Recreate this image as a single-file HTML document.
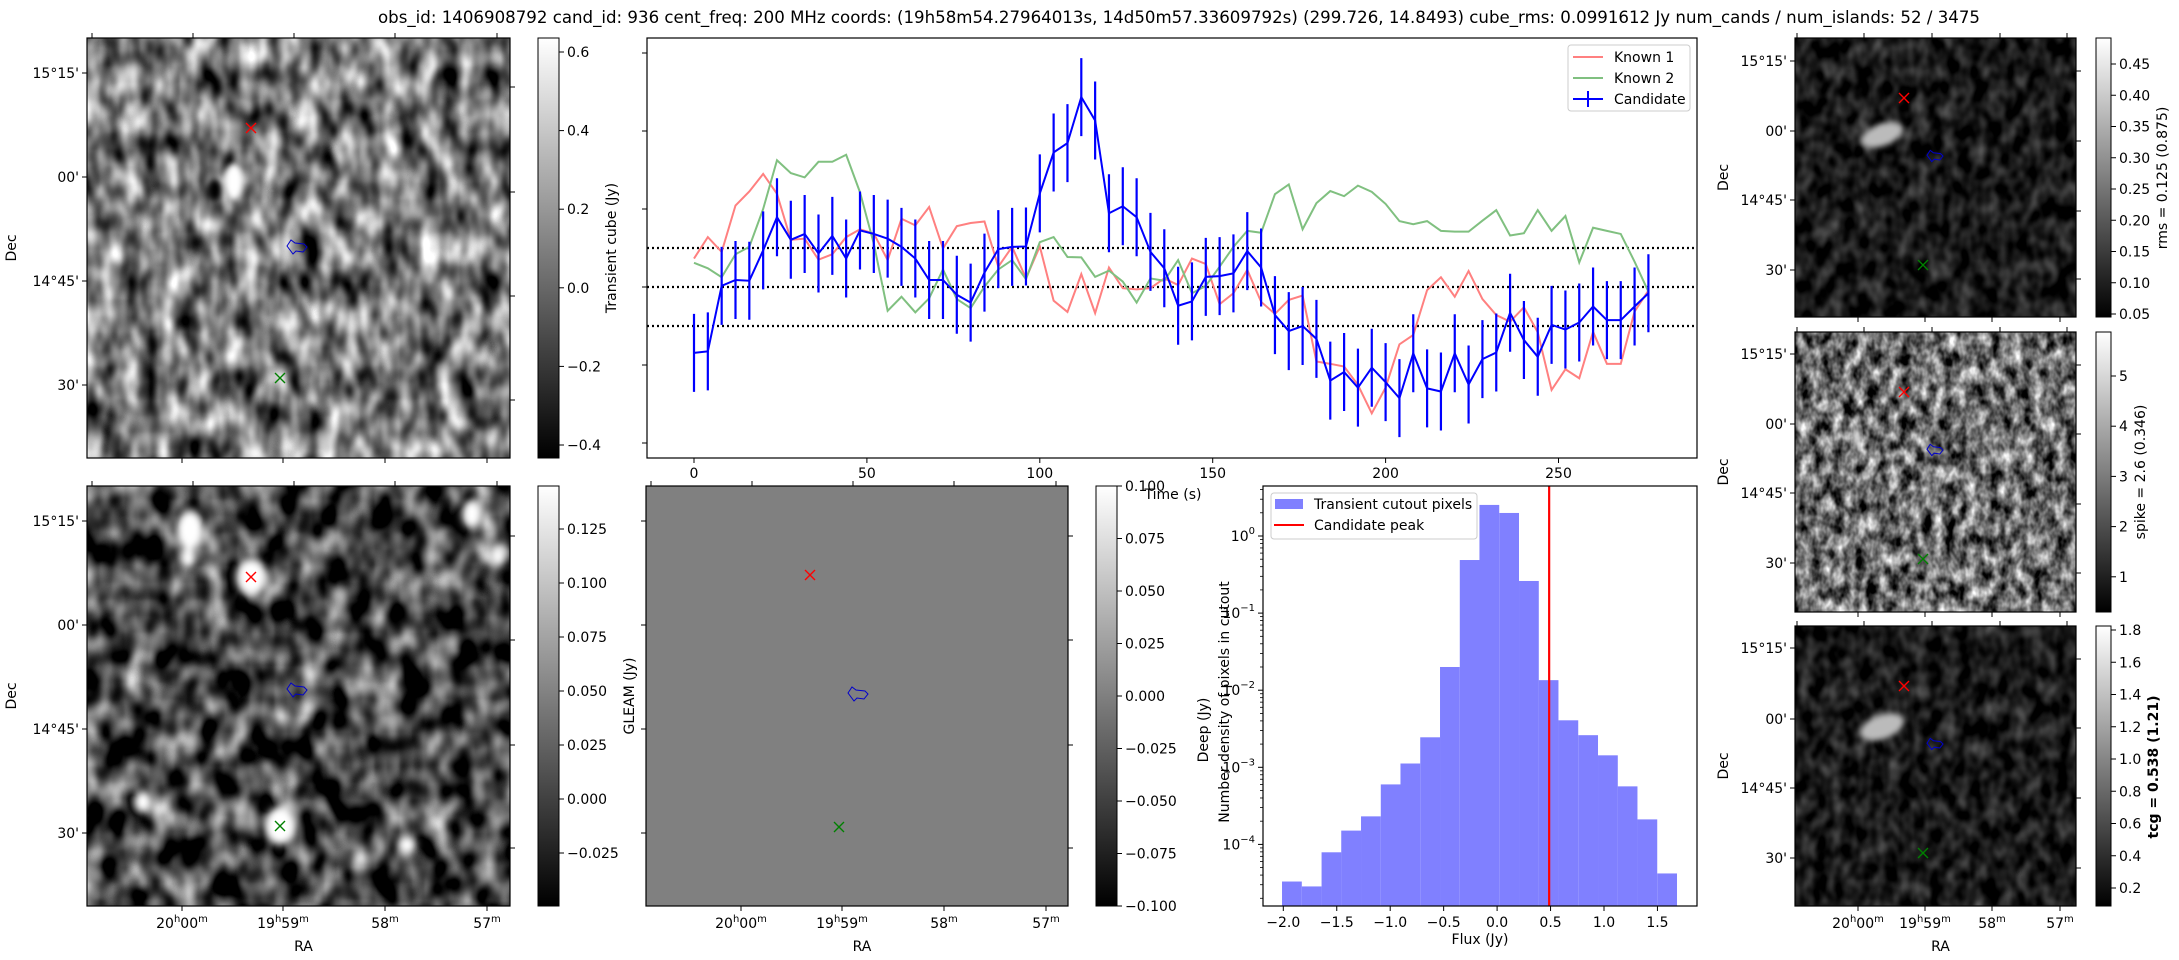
<!DOCTYPE html>
<html><head><meta charset="utf-8"><style>
html,body{margin:0;padding:0;background:#fff}
svg{display:block;font-family:"DejaVu Sans","Liberation Sans",sans-serif}
</style></head><body>
<svg id="fig" width="2179" height="960" viewBox="0 0 2179 960" xmlns="http://www.w3.org/2000/svg">
<defs>
<filter id="nz1" x="0" y="0" width="100%" height="100%" color-interpolation-filters="sRGB"><feTurbulence type="fractalNoise" baseFrequency="0.05 0.03" numOctaves="2" seed="3"/><feColorMatrix type="matrix" values="1.6 0 0 0 -0.32 1.6 0 0 0 -0.32 1.6 0 0 0 -0.32 0 0 0 0 1"/></filter>
<filter id="nz2" x="0" y="0" width="100%" height="100%" color-interpolation-filters="sRGB"><feTurbulence type="fractalNoise" baseFrequency="0.04 0.03" numOctaves="2" seed="7"/><feColorMatrix type="matrix" values="1.7 0 0 0 -0.58 1.7 0 0 0 -0.58 1.7 0 0 0 -0.58 0 0 0 0 1"/></filter>
<filter id="nz3" x="0" y="0" width="100%" height="100%" color-interpolation-filters="sRGB"><feTurbulence type="fractalNoise" baseFrequency="0.07 0.05" numOctaves="2" seed="11"/><feColorMatrix type="matrix" values="0.6 0 0 0 -0.2 0.6 0 0 0 -0.2 0.6 0 0 0 -0.2 0 0 0 0 1"/></filter>
<filter id="nz4" x="0" y="0" width="100%" height="100%" color-interpolation-filters="sRGB"><feTurbulence type="fractalNoise" baseFrequency="0.09 0.06" numOctaves="3" seed="5"/><feColorMatrix type="matrix" values="1.6 0 0 0 -0.38 1.6 0 0 0 -0.38 1.6 0 0 0 -0.38 0 0 0 0 1"/></filter>
<filter id="bl" x="-50%" y="-50%" width="200%" height="200%"><feGaussianBlur stdDeviation="4"/></filter>
<filter id="bl2" x="-50%" y="-50%" width="200%" height="200%"><feGaussianBlur stdDeviation="3"/></filter>
<linearGradient id="gray" x1="0" y1="1" x2="0" y2="0"><stop offset="0" stop-color="#000"/><stop offset="1" stop-color="#fff"/></linearGradient>
<clipPath id="c1"><rect x="87" y="38" width="423" height="420"/></clipPath>
<clipPath id="c2"><rect x="87" y="486" width="423" height="420"/></clipPath>
<clipPath id="c5"><rect x="1795" y="38" width="281" height="279"/></clipPath>
<clipPath id="c6"><rect x="1795" y="332" width="281" height="280"/></clipPath>
<clipPath id="c7"><rect x="1795" y="626" width="281" height="280"/></clipPath>
</defs>

<text x="378" y="23" font-size="16.5" textLength="1602" lengthAdjust="spacingAndGlyphs">obs_id: 1406908792 cand_id: 936 cent_freq: 200 MHz coords: (19h58m54.27964013s, 14d50m57.33609792s) (299.726, 14.8493) cube_rms: 0.0991612 Jy num_cands / num_islands: 52 / 3475</text>

<g clip-path="url(#c1)">
<rect x="87" y="38" width="423" height="420" filter="url(#nz1)"/>
<ellipse cx="234" cy="182" rx="9" ry="18" fill="#fff" filter="url(#bl2)"/>
<ellipse cx="215" cy="190" rx="7" ry="11" fill="#000" filter="url(#bl2)"/>
</g>
<g clip-path="url(#c2)">
<rect x="87" y="486" width="423" height="420" filter="url(#nz2)"/>
<g fill="#fff" filter="url(#bl)">
<ellipse cx="190" cy="530" rx="14" ry="20"/><ellipse cx="188" cy="558" rx="8" ry="10"/>
<ellipse cx="251" cy="577" rx="15" ry="18"/><ellipse cx="472" cy="514" rx="10" ry="14"/>
<ellipse cx="498" cy="556" rx="7" ry="10"/><ellipse cx="143" cy="802" rx="9" ry="11"/>
<ellipse cx="280" cy="826" rx="15" ry="19"/><ellipse cx="407" cy="845" rx="9" ry="9"/>
</g></g>
<rect x="646" y="486" width="422" height="420" fill="#808080"/>
<g clip-path="url(#c5)">
<rect x="1795" y="38" width="281" height="279" filter="url(#nz3)"/>
<ellipse cx="1882" cy="135" rx="22" ry="11" fill="#bbb" transform="rotate(-20 1882 135)" filter="url(#bl2)"/>
</g>
<g clip-path="url(#c6)">
<rect x="1795" y="332" width="281" height="280" filter="url(#nz4)"/>
<ellipse cx="1857" cy="437" rx="3" ry="10" fill="#fff" filter="url(#bl2)"/>
</g>
<g clip-path="url(#c7)">
<rect x="1795" y="626" width="281" height="280" filter="url(#nz3)"/>
<ellipse cx="1882" cy="727" rx="23" ry="12" fill="#bbb" transform="rotate(-20 1882 727)" filter="url(#bl2)"/>
</g>

<rect x="538" y="38" width="21" height="420" fill="url(#gray)" stroke="#000"/>
<rect x="538" y="486" width="21" height="420" fill="url(#gray)" stroke="#000"/>
<rect x="1096" y="486" width="21" height="420" fill="url(#gray)" stroke="#000"/>
<rect x="2096" y="38" width="15" height="279" fill="url(#gray)" stroke="#000"/>
<rect x="2096" y="332" width="15" height="280" fill="url(#gray)" stroke="#000"/>
<rect x="2096" y="626" width="15" height="280" fill="url(#gray)" stroke="#000"/>

<text font-size="14" text-anchor="middle" transform="translate(616 248) rotate(-90)">Transient cube (Jy)</text>
<text font-size="14" text-anchor="middle" transform="translate(634 696) rotate(-90)">GLEAM (Jy)</text>
<text font-size="14" text-anchor="middle" transform="translate(2167 178) rotate(-90)">rms = 0.125 (0.875)</text>
<text font-size="14" text-anchor="middle" transform="translate(2145 472) rotate(-90)">spike = 2.6 (0.346)</text>
<text font-size="14" font-weight="bold" text-anchor="middle" transform="translate(2158 767) rotate(-90)">tcg = 0.538 (1.21)</text>

<g id="lc"></g>
<g id="hist"></g>
<g id="deco"></g>

<text x="1173" y="499" font-size="14" text-anchor="middle">Time (s)</text>
<text x="1480" y="944" font-size="14" text-anchor="middle">Flux (Jy)</text>
<text font-size="14" text-anchor="middle" transform="translate(1229 702) rotate(-90)">Number density of pixels in cutout</text>
<text font-size="14" text-anchor="middle" transform="translate(1208 730) rotate(-90)">Deep (Jy)</text>
</svg>
<script>
// ---------- light curve data ----------
const times = [0,4,8,12,16,20,24,28,32,36,40,44,48,52,56,60,64,68,72,76,80,84,88,92,96,100,104,108,112,116,120,124,128,132,136,140,144,148,152,156,160,164,168,172,176,180,184,188,192,196,200,204,208,212,216,220,224,228,232,236,240,244,248,252,256,260,264,268,272,276];
const candidate = [-0.169,-0.165,0.003,0.018,0.016,0.094,0.179,0.121,0.136,0.086,0.131,0.073,0.145,0.136,0.124,0.103,0.073,0.018,0.018,-0.020,-0.040,0.037,0.097,0.103,0.104,0.240,0.345,0.369,0.487,0.427,0.189,0.207,0.179,0.090,0.048,-0.048,-0.037,0.026,0.028,0.035,0.092,0.050,-0.072,-0.113,-0.100,-0.133,-0.240,-0.218,-0.258,-0.207,-0.244,-0.285,-0.170,-0.260,-0.268,-0.170,-0.250,-0.185,-0.168,-0.066,-0.136,-0.179,-0.097,-0.109,-0.091,-0.050,-0.085,-0.085,-0.050,-0.016];
const candidateErr = [0.1,0.1,0.1,0.1,0.1,0.1,0.1,0.1,0.1,0.1,0.1,0.1,0.1,0.1,0.1,0.1,0.1,0.1,0.1,0.1,0.1,0.1,0.1,0.1,0.1,0.1,0.1,0.1,0.1,0.1,0.1,0.1,0.1,0.1,0.1,0.1,0.1,0.1,0.1,0.1,0.1,0.1,0.1,0.1,0.1,0.1,0.1,0.1,0.1,0.1,0.1,0.1,0.1,0.1,0.1,0.1,0.1,0.1,0.1,0.1,0.1,0.1,0.1,0.1,0.1,0.1,0.1,0.1,0.1,0.1];
const known1 = [0.073,0.128,0.090,0.209,0.245,0.290,0.239,0.121,0.124,0.070,0.084,0.128,0.148,0.137,0.069,0.175,0.158,0.205,0.099,0.156,0.164,0.168,0.052,0.103,0.022,0.104,-0.035,-0.064,0.033,-0.067,0.050,-0.003,-0.006,-0.003,0.022,0.005,0.073,0.059,-0.044,-0.016,0.044,-0.038,-0.069,-0.033,-0.022,-0.191,-0.197,-0.204,-0.251,-0.324,-0.258,-0.147,-0.123,-0.008,0.025,-0.025,0.041,-0.031,-0.072,-0.089,-0.052,-0.116,-0.264,-0.211,-0.234,-0.115,-0.197,-0.197,-0.063,-0.009];
const known2 = [0.062,0.048,0.025,0.084,0.103,0.200,0.325,0.292,0.281,0.321,0.321,0.339,0.243,0.111,-0.061,-0.025,-0.065,-0.029,0.045,-0.031,-0.054,0.001,0.045,0.069,0.020,0.115,0.128,0.077,0.076,0.026,0.042,0.014,-0.040,0.022,0.016,0.069,-0.016,0.003,0.052,0.103,0.144,0.139,0.238,0.263,0.148,0.215,0.246,0.233,0.260,0.244,0.213,0.169,0.161,0.169,0.144,0.142,0.142,0.170,0.197,0.132,0.138,0.197,0.144,0.182,0.063,0.152,0.144,0.136,0.065,-0.012];
const thresholdLines = [0.1, 0, -0.1];
const timeTicks = [0,50,100,150,200,250];
const lcYTicks = [-0.4,-0.2,0,0.2,0.4,0.6];
// ---------- histogram data ----------
const binLeft = [-2.012,-1.827,-1.642,-1.458,-1.273,-1.088,-0.904,-0.719,-0.534,-0.349,-0.165,0.020,0.205,0.389,0.574,0.759,0.944,1.128,1.313,1.498];
const binWidth = 0.185;
const binDensity = [3.3e-5,2.85e-5,7.9e-5,1.51e-4,2.31e-4,6.0e-4,1.12e-3,2.45e-3,0.020,0.488,2.53,1.99,0.261,0.0135,4.07e-3,2.61e-3,1.43e-3,5.66e-4,2.11e-4,4.2e-5];
const candidatePeak = 0.487;
const fluxTicks = [-2.0,-1.5,-1.0,-0.5,0.0,0.5,1.0,1.5];
const decadeTicks = [0,-1,-2,-3,-4];

const NS = 'http://www.w3.org/2000/svg';
function mk(parent, tag, attrs, text){
  const e = document.createElementNS(NS, tag);
  for (const k in attrs) e.setAttribute(k, attrs[k]);
  if (text !== undefined) e.textContent = text;
  parent.appendChild(e);
  return e;
}
const fmt = v => (v < 0 ? '\u2212' : '') + Math.abs(v).toFixed(1);

const lc = document.getElementById('lc');
const LC = {l:647, r:1697, t:38, b:458};
const xL = t => 694 + t * 3.458;
const yL = v => 287 - v * 390;
thresholdLines.forEach(v => {
  const e = mk(lc, 'line', {x1:LC.l, x2:LC.r, y1:yL(v), y2:yL(v), stroke:'#000', 'stroke-width':2.2, 'stroke-dasharray':'2,3'});
  
  
});
function series(vals, color, name){
  const p = mk(lc, 'polyline', {points: vals.map((v,i)=>xL(times[i])+','+yL(v)).join(' '), fill:'none', stroke:color, 'stroke-width':2});
  
  
}
series(known1, '#ff8080', 'known-1-line');
series(known2, '#80c080', 'known-2-line');
candidate.forEach((v,i) => {
  const e = mk(lc, 'line', {x1:xL(times[i]), x2:xL(times[i]), y1:yL(v+candidateErr[i]), y2:yL(v-candidateErr[i]), stroke:'#0000ff', 'stroke-width':2.2});
  
  
});
series(candidate, '#0000ff', 'candidate-line');
const lcFrame = mk(lc, 'rect', {x:LC.l, y:LC.t, width:LC.r-LC.l, height:LC.b-LC.t, fill:'none', stroke:'#000', 'stroke-width':1.2});


timeTicks.forEach(t => {
  const e = mk(lc, 'line', {x1:xL(t), x2:xL(t), y1:LC.b, y2:LC.b+5, stroke:'#000'});
  
  
  const l = mk(lc, 'text', {x:xL(t), y:LC.b+20, 'font-size':14, 'text-anchor':'middle'}, String(t));
  
  
});
lcYTicks.forEach(v => {
  const e = mk(lc, 'line', {x1:LC.l-5, x2:LC.l, y1:yL(v), y2:yL(v), stroke:'#000'});
  
  
});
const lg = mk(lc, 'g', {});


mk(lg, 'rect', {x:1568, y:45, width:122, height:66, rx:3, fill:'#fff', stroke:'#ccc'});
[['Known 1','#ff8080'],['Known 2','#80c080'],['Candidate','#0000ff']].forEach((d,i) => {
  const y = 57 + i*21;
  const en = mk(lg, 'g', {});
  
  
  mk(en, 'line', {x1:1573, x2:1603, y1:y, y2:y, stroke:d[1], 'stroke-width':2});
  if (i === 2) mk(en, 'line', {x1:1588, x2:1588, y1:y-8, y2:y+8, stroke:d[1], 'stroke-width':2});
  mk(en, 'text', {x:1614, y:y+5, 'font-size':14}, d[0]);
});

const hg = document.getElementById('hist');
const H = {l:1263, r:1697, t:486, b:906};
const xH = f => 1283.3 + (f + 2) * 106.9;
const yH = v => 536 - Math.log10(v) * 77.1;
binLeft.forEach((b,i) => {
  const y = yH(binDensity[i]);
  const e = mk(hg, 'rect', {x:xH(b), y:y, width:xH(b+binWidth)-xH(b), height:H.b-y, fill:'#8080ff'});
  
  
});
const pk = mk(hg, 'line', {x1:xH(candidatePeak), x2:xH(candidatePeak), y1:H.t, y2:H.b, stroke:'#ff0000', 'stroke-width':2.2});


const hf = mk(hg, 'rect', {x:H.l, y:H.t, width:H.r-H.l, height:H.b-H.t, fill:'none', stroke:'#000', 'stroke-width':1.2});


fluxTicks.forEach(f => {
  const e = mk(hg, 'line', {x1:xH(f), x2:xH(f), y1:H.b, y2:H.b+5, stroke:'#000'});
  
  
  const l = mk(hg, 'text', {x:xH(f), y:H.b+21, 'font-size':14, 'text-anchor':'middle'}, fmt(f));
  
  
});
decadeTicks.forEach(d => {
  const y = yH(Math.pow(10, d));
  const e = mk(hg, 'line', {x1:H.l-5, x2:H.l, y1:y, y2:y, stroke:'#000'});
  
  
  const t = mk(hg, 'text', {x:H.l-8, y:y+5, 'font-size':14, 'text-anchor':'end'});
  
  
  mk(t, 'tspan', {}, '10');
  mk(t, 'tspan', {'font-size':10, dy:-7}, d === 0 ? '0' : '\u2212' + Math.abs(d));
  for (let m = 2; m < 10; m++) {
    const ym = yH(m * Math.pow(10, d - 1));
    if (ym > H.b || ym < H.t) continue;
    const mt = mk(hg, 'line', {x1:H.l-3, x2:H.l, y1:ym, y2:ym, stroke:'#000', 'stroke-width':0.8});
    
    
  }
});
for (let m = 2; m < 5; m++) {
  const ym = yH(m);
  const mt = mk(hg, 'line', {x1:H.l-3, x2:H.l, y1:ym, y2:ym, stroke:'#000', 'stroke-width':0.8});
  
  
}
const hl = mk(hg, 'g', {});


mk(hl, 'rect', {x:1271, y:493, width:206, height:46, rx:3, fill:'#fff', stroke:'#ccc'});
mk(hl, 'rect', {x:1275, y:499, width:28, height:10, fill:'#8080ff'});
mk(hl, 'text', {x:1314, y:509, 'font-size':14}, 'Transient cutout pixels');
mk(hl, 'line', {x1:1274, x2:1304, y1:525, y2:525, stroke:'#ff0000', 'stroke-width':2});
mk(hl, 'text', {x:1314, y:530, 'font-size':14}, 'Candidate peak');

const deco = document.getElementById('deco');
function panel(p){
  const g = mk(deco, 'g', {});
  
  
  mk(g, 'rect', {x:p.x, y:p.y, width:p.w, height:p.h, fill:'none', stroke:'#000', 'stroke-width':1.2});
  p.topX.forEach(x => mk(g, 'line', {x1:x, x2:x, y1:p.y-5, y2:p.y, stroke:'#000'}));
  p.botX.forEach(x => mk(g, 'line', {x1:x, x2:x, y1:p.y+p.h, y2:p.y+p.h+5, stroke:'#000'}));
  p.rightY.forEach(y => mk(g, 'line', {x1:p.x+p.w, x2:p.x+p.w+5, y1:y, y2:y, stroke:'#000'}));
  p.decY.forEach(y => mk(g, 'line', {x1:p.x-5, x2:p.x, y1:y, y2:y, stroke:'#000'}));
  if (p.decLabels) {
    const labs = ["15\u00b015'", "00'", "14\u00b045'", "30'"];
    p.decY.forEach((y,i) => mk(g, 'text', {x:p.x-8, y:y+5, 'font-size':14, 'text-anchor':'end'}, labs[i]));
    mk(g, 'text', {'font-size':14, 'text-anchor':'middle', transform:'translate('+(p.x-p.decOff)+' '+(p.y+p.h/2)+') rotate(-90)'}, 'Dec');
  }
  if (p.raLabels) {
    const raL = [['20','h','00','m'],['19','h','59','m'],['58','m'],['57','m']];
    p.botX.forEach((x,i) => {
      const t = mk(g, 'text', {x:x, y:p.y+p.h+22, 'font-size':14, 'text-anchor':'middle'});
      const r = raL[i];
      for (let k = 0; k < r.length; k++) mk(t, 'tspan', (k % 2 === 1) ? {'font-size':10, dy:-6} : (k > 0 ? {dy:6} : {}), r[k]);
    });
    mk(g, 'text', {x:p.x+p.w/2+5, y:p.y+p.h+45, 'font-size':14, 'text-anchor':'middle'}, 'RA');
  }
  const mx = (cx, cy, col) => { mk(g,'path',{d:`M${cx-5} ${cy-5}L${cx+5} ${cy+5}M${cx-5} ${cy+5}L${cx+5} ${cy-5}`, stroke:col, 'stroke-width':1.4}); };
  mx(p.x+p.red[0], p.y+p.red[1], '#ff0000');
  mx(p.x+p.green[0], p.y+p.green[1], '#008000');
  const cx = p.x+p.blue[0], cy = p.y+p.blue[1], s = p.s;
  mk(g, 'path', {d:`M${cx-10*s} ${cy-1*s} L${cx-6*s} ${cy-7*s} L${cx-2*s} ${cy-4*s} L${cx+7*s} ${cy-3*s} L${cx+10*s} ${cy} L${cx+6*s} ${cy+5*s} L${cx-1*s} ${cy+4*s} L${cx-4*s} ${cy+7*s} Z`, fill:'none', stroke:'#0000cc', 'stroke-width':1});
}
panel({name:'transient-image', x:87, y:38, w:423, h:420, topX:[92,193,294,395,497], botX:[182,283,385,487], rightY:[87,192,296,400], decY:[73,177,281,385], decLabels:true, decOff:71, raLabels:false, red:[164,90], green:[193,340], blue:[210,209], s:1});
panel({name:'gleam-image', x:87, y:486, w:423, h:420, topX:[92,193,294,395,497], botX:[182,283,385,487], rightY:[536,640,745,848], decY:[521,625,729,833], decLabels:true, decOff:71, raLabels:true, red:[164,91], green:[193,340], blue:[210,204], s:1});
panel({name:'gleam-flat', x:646, y:486, w:422, h:420, topX:[651,752,853,954,1056], botX:[741,842,944,1046], rightY:[536,640,745,848], decY:[521,625,729,833], decLabels:false, raLabels:true, red:[164,89], green:[193,341], blue:[212,208], s:1});
panel({name:'rms-image', x:1795, y:38, w:281, h:279, topX:[1797,1864,1932,2000,2067], botX:[1858,1925,1992,2060], rightY:[71,141,211,279], decY:[61,131,200,270], decLabels:true, decOff:67, raLabels:false, red:[109,60], green:[128,227], blue:[140,118], s:0.8});
panel({name:'spike-image', x:1795, y:332, w:281, h:280, topX:[1797,1864,1932,2000,2067], botX:[1858,1925,1992,2060], rightY:[365,434,504,573], decY:[354,424,493,563], decLabels:true, decOff:67, raLabels:false, red:[109,60], green:[128,227], blue:[140,118], s:0.8});
panel({name:'tcg-image', x:1795, y:626, w:281, h:280, topX:[1797,1864,1932,2000,2067], botX:[1858,1925,1992,2060], rightY:[659,728,798,868], decY:[648,719,788,858], decLabels:true, decOff:67, raLabels:true, red:[109,60], green:[128,227], blue:[140,118], s:0.8});

function cbar(name, x, w, ticks){
  const g = mk(deco, 'g', {});
  
  
  ticks.forEach(t => {
    mk(g, 'line', {x1:x+w, x2:x+w+5, y1:t[1], y2:t[1], stroke:'#000'});
    mk(g, 'text', {x:x+w+8, y:t[1]+5, 'font-size':14}, t[0]);
  });
}
const cb1Labels = ['0.6','0.4','0.2','0.0','\u22120.2','\u22120.4'];
cbar('transient-colorbar', 538, 21, cb1Labels.map((l,i)=>[l, 52 + i*78.6]));
const cb2Labels = ['0.125','0.100','0.075','0.050','0.025','0.000','\u22120.025'];
cbar('gleam-colorbar', 538, 21, cb2Labels.map((l,i)=>[l, 529 + i*54]));
const cb3Labels = ['0.100','0.075','0.050','0.025','0.000','\u22120.025','\u22120.050','\u22120.075','\u22120.100'];
cbar('gleam-flat-colorbar', 1096, 21, cb3Labels.map((l,i)=>[l, 486 + i*52.5]));
const cb4Labels = ['0.45','0.40','0.35','0.30','0.25','0.20','0.15','0.10','0.05'];
cbar('rms-colorbar', 2096, 15, cb4Labels.map((l,i)=>[l, 64 + i*31.25]));
const cb5Labels = ['5','4','3','2','1'];
cbar('spike-colorbar', 2096, 15, cb5Labels.map((l,i)=>[l, 376 + i*50.2]));
const cb6Labels = ['1.8','1.6','1.4','1.2','1.0','0.8','0.6','0.4','0.2'];
cbar('tcg-colorbar', 2096, 15, cb6Labels.map((l,i)=>[l, 630 + i*32.25]));
</script>
</body></html>
